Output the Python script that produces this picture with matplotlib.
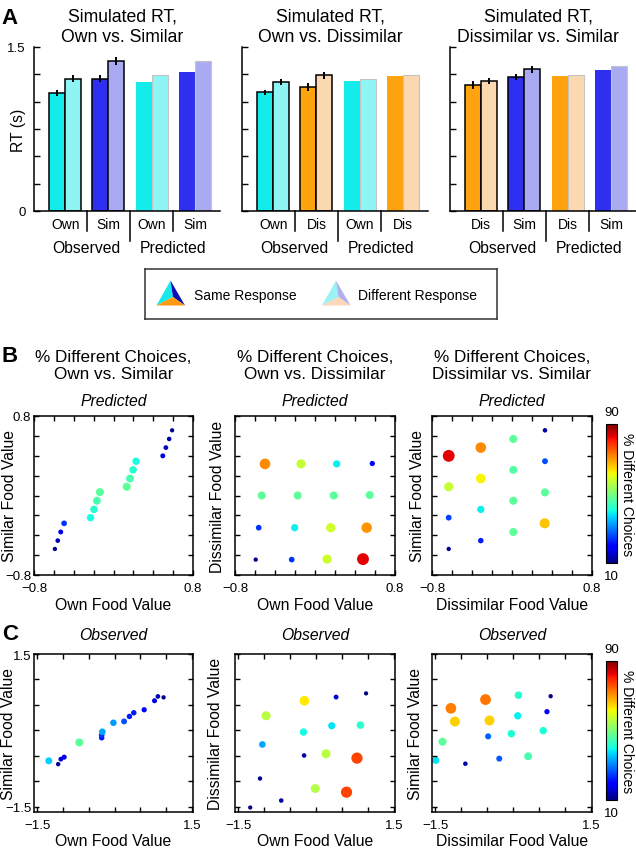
import numpy as np
import matplotlib
matplotlib.use('Agg')
import matplotlib.pyplot as plt
from matplotlib.patches import Polygon
from matplotlib.colors import Normalize
import matplotlib.cm as cm

W, H = 636, 853
plt.rcParams['font.family'] = ['Liberation Sans', 'DejaVu Sans']

# ---------------- panel A: simulated RT (s) ----------------
rt_titles = ['Simulated RT,\nOwn vs. Similar',
             'Simulated RT,\nOwn vs. Dissimilar',
             'Simulated RT,\nDissimilar vs. Similar']
rt_groups = [['Own', 'Sim', 'Own', 'Sim'],
             ['Own', 'Dis', 'Own', 'Dis'],
             ['Dis', 'Sim', 'Dis', 'Sim']]
# first two groups observed, last two predicted
rt_same = [[1.08, 1.21, 1.18, 1.275],
           [1.085, 1.135, 1.19, 1.235],
           [1.15, 1.225, 1.235, 1.29]]
rt_diff = [[1.21, 1.37, 1.24, 1.37],
           [1.18, 1.24, 1.208, 1.245],
           [1.19, 1.295, 1.245, 1.325]]
rt_same_err = [[0.025, 0.03], [0.025, 0.035], [0.035, 0.025]]
rt_diff_err = [[0.03, 0.035], [0.025, 0.03], [0.03, 0.03]]
rt_ticks = [0, 0.25, 0.5, 0.75, 1.0, 1.25, 1.5]

# ---------------- panel B: predicted % different choices ----------------
pos_own = [-0.59, -0.561, -0.531, -0.497, -0.231, -0.197, -0.167, -0.137,
           0.133, 0.166, 0.197, 0.227, 0.496, 0.527, 0.56, 0.59]
pos_sim = [-0.538, -0.454, -0.367, -0.28, -0.223, -0.14, -0.053, 0.034,
           0.088, 0.171, 0.258, 0.345, 0.399, 0.482, 0.569, 0.656]
pos_pct = [11, 14, 17, 24, 40, 42, 45, 47, 47, 45, 42, 40, 17, 15, 13, 11]

pod_own = [-0.5, -0.14, 0.217, 0.573, -0.533, -0.173, 0.187, 0.547,
           -0.563, -0.203, 0.157, 0.517, -0.593, -0.233, 0.12, 0.48]
pod_dis = [0.318, 0.318, 0.318, 0.322, 0.0, 0.0, 0.0, 0.005,
           -0.324, -0.324, -0.324, -0.324, -0.645, -0.645, -0.64, -0.64]
pod_pct = [71, 57, 39, 20, 47, 47, 47, 47, 24, 39, 58, 70, 11, 24, 58, 83]

pds_dis = [-0.633, -0.633, -0.633, -0.633, -0.312, -0.312, -0.312, -0.312,
           0.013, 0.013, 0.013, 0.013, 0.33, 0.33, 0.33, 0.327]
pds_sim = [0.399, 0.088, -0.223, -0.538, 0.482, 0.171, -0.14, -0.454,
           0.569, 0.258, -0.053, -0.367, 0.656, 0.345, 0.031, -0.28]
pds_pct = [83, 57, 25, 11, 71, 62, 39, 22, 47, 46, 47, 47, 13, 26, 47, 66]

# ---------------- panel C: observed % different choices ----------------
oos_own = [-1.273, -1.092, -1.04, -0.975, -0.683, -0.249, -0.249, -0.236,
           -0.022, 0.185, 0.289, 0.373, 0.574, 0.775, 0.84, 0.95]
oos_sim = [-0.596, -0.661, -0.563, -0.524, -0.235, -0.144, -0.092, -0.026,
           0.151, 0.177, 0.275, 0.347, 0.406, 0.583, 0.668, 0.649]
oos_pct = [36, 12, 16, 18, 47, 22, 24, 33, 32, 26, 22, 22, 20, 18, 14, 11]

ood_own = [-1.267, -1.079, -0.67, -1.033, -0.962, -0.223, -0.243, -0.23,
           -0.016, 0.192, 0.302, 0.386, 0.587, 0.788, 0.853, 0.963]
ood_dis = [-1.512, -0.943, -1.375, -0.275, 0.288, 0.583, -0.032, -0.491,
           -1.139, -0.458, 0.092, 0.655, -1.211, -0.543, 0.105, 0.727]
ood_pct = [10, 12, 13, 33, 56, 63, 40, 13, 55, 56, 38, 16, 77, 77, 42, 10]

ods_dis = [-1.487, -1.358, -1.196, -1.119, -0.918, -0.53, -0.479, -0.453,
           -0.265, -0.033, 0.09, 0.103, 0.29, 0.581, 0.653, 0.724]
ods_sim = [-0.586, -0.222, 0.434, 0.175, -0.652, 0.606, -0.116, 0.195,
           -0.553, -0.063, 0.288, 0.692, -0.507, -0.003, 0.368, 0.672]
ods_pct = [38, 47, 72, 65, 13, 73, 28, 65, 27, 41, 39, 42, 45, 41, 20, 11]

pct_lo, pct_hi = 10, 90

fig = plt.figure(figsize=(W / 100, H / 100), dpi=100)


def rect(x0, y0, x1, y1):
    return [x0 / W, 1 - y1 / H, (x1 - x0) / W, (y1 - y0) / H]


def ftext(x, y, s, **kw):
    kw.setdefault('ha', 'center')
    kw.setdefault('va', 'center')
    fig.text(x / W, 1 - y / H, s, **kw)


# ---------------- A ----------------
bar_col = {'Own': ('#14ecec', '#8ff4f4'),
           'Sim': ('#2f2ff0', '#aaaaf2'),
           'Dis': ('#ffa30f', '#fcd8b0')}
a_left = [34, 242, 450]
a_w = 186
bw = 0.37
for i in range(3):
    ax = fig.add_axes(rect(a_left[i], 48, a_left[i] + a_w, 212))
    for j in range(4):
        cat = rt_groups[i][j]
        dark, light = bar_col[cat]
        c = j + 1
        if j < 2:
            ax.bar(c - bw / 2, rt_same[i][j], bw, color=dark, edgecolor='black', linewidth=1.1)
            ax.bar(c + bw / 2, rt_diff[i][j], bw, color=light, edgecolor='black', linewidth=1.1)
            ax.errorbar([c - bw / 2, c + bw / 2], [rt_same[i][j], rt_diff[i][j]],
                        yerr=[rt_same_err[i][j], rt_diff_err[i][j]], fmt='none',
                        ecolor='black', elinewidth=1.4, capsize=0, zorder=5)
        else:
            ax.bar(c - bw / 2, rt_same[i][j], bw, color=dark, edgecolor='none')
            ax.bar(c + bw / 2, rt_diff[i][j], bw, color=light, edgecolor='#c4c4c4', linewidth=0.8)
        ax.text(c, -0.079, cat, transform=ax.get_xaxis_transform(), ha='center', va='center', fontsize=10)
    tr = ax.get_xaxis_transform()
    for sx, depth in [(1.5, -0.122), (2.5, -0.183), (3.5, -0.122)]:
        ax.plot([sx, sx], [0, depth], color='black', lw=1.1, transform=tr, clip_on=False)
    ax.text(1.5, -0.22, 'Observed', transform=tr, ha='center', va='center', fontsize=11.3)
    ax.text(3.5, -0.22, 'Predicted', transform=tr, ha='center', va='center', fontsize=11.3)
    ax.set_xlim(0.28, 4.58)
    ax.set_ylim(0, 1.5)
    ax.set_xticks([])
    ax.set_yticks(rt_ticks)
    if i == 0:
        ax.set_yticklabels(['0', '', '', '', '', '', '1.5'], fontsize=9.5)
    else:
        ax.set_yticklabels([])
    ax.tick_params(axis='y', direction='in', length=4, width=1, pad=6)
    for s in ['top', 'right']:
        ax.spines[s].set_visible(False)
    for s in ['left', 'bottom']:
        ax.spines[s].set_linewidth(1.1)
    ftext(a_left[i] + a_w / 2 - 5, 27, rt_titles[i], fontsize=12.7, linespacing=1.25)

ftext(18, 130, 'RT (s)', rotation=90, fontsize=11.3)
ftext(10, 19, 'A', fontsize=16, fontweight='bold')

# legend box
lax = fig.add_axes(rect(145, 270, 497, 320))
lax.set_xlim(0, 352)
lax.set_ylim(50, 0)
lax.set_xticks([])
lax.set_yticks([])
for s in lax.spines.values():
    s.set_linewidth(1.1)
    s.set_color('#333333')


def pyramid(x0, faces):
    top, bl, br, mid = (x0 + 14, 11.5), (x0, 36.5), (x0 + 28.5, 36.5), (x0 + 16.5, 28)
    lax.add_patch(Polygon([top, bl, mid], closed=True, color=faces[0], lw=0))
    lax.add_patch(Polygon([top, mid, br], closed=True, color=faces[1], lw=0))
    lax.add_patch(Polygon([bl, mid, br], closed=True, color=faces[2], lw=0))


pyramid(11.5, ['#18e8ea', '#0d0db8', '#ff9a10'])
pyramid(177, ['#9af2f2', '#b0b0f0', '#fbd8ba'])
lax.text(49, 26, 'Same Response', ha='left', va='center', fontsize=10)
lax.text(213, 26, 'Different Response', ha='left', va='center', fontsize=10)

# ---------------- B and C ----------------
norm = Normalize(pct_lo, pct_hi)


def scatter_panel(box, xs, ys, pct, lim, ticks, tlab, show_y):
    ax = fig.add_axes(rect(*box))
    p = np.array(pct, dtype=float)
    order = np.argsort(p)
    ax.scatter(np.array(xs)[order], np.array(ys)[order], c=p[order], cmap='jet', norm=norm,
               s=(2.3 + 0.075 * p[order]) ** 2, linewidths=0)
    ax.set_xlim(lim[0], lim[1])
    ax.set_ylim(lim[2], lim[3])
    ax.set_xticks(ticks)
    ax.set_yticks(ticks)
    labels = [tlab[0]] + [''] * (len(ticks) - 2) + [tlab[1]]
    ax.set_xticklabels(labels, fontsize=9.5)
    ax.set_yticklabels(labels if show_y else [], fontsize=9.5)
    ax.tick_params(direction='in', top=True, right=True, length=3.5, width=1)
    ax.tick_params(axis='x', pad=5)
    ax.tick_params(axis='y', pad=2)
    for s in ax.spines.values():
        s.set_linewidth(1.1)
    return ax


b_ticks = [-0.8, -0.6, -0.4, -0.2, 0, 0.2, 0.4, 0.6, 0.8]
b_lab = ['\u22120.8', '0.8']
b_lim = (-0.8, 0.8, -0.8, 0.8)
c_ticks = [-1.5, -1.0, -0.5, 0, 0.5, 1.0, 1.5]
c_lab = ['\u22121.5', '1.5']
c_lim = (-1.56, 1.52, -1.6, 1.5)

b_boxes = [(34, 417, 193, 576), (235, 417, 395, 576), (432, 417, 592, 576)]
c_boxes = [(34, 655, 193, 813), (235, 655, 395, 813), (432, 655, 592, 813)]

b_titles = ['% Different Choices,\nOwn vs. Similar',
            '% Different Choices,\nOwn vs. Dissimilar',
            '% Different Choices,\nDissimilar vs. Similar']
x_names = ['Own Food Value', 'Own Food Value', 'Dissimilar Food Value']
y_names = ['Similar Food Value', 'Dissimilar Food Value', 'Similar Food Value']
ylab_x = [10, 217, 417]

b_data = [(pos_own, pos_sim, pos_pct), (pod_own, pod_dis, pod_pct), (pds_dis, pds_sim, pds_pct)]
c_data = [(oos_own, oos_sim, oos_pct), (ood_own, ood_dis, ood_pct), (ods_dis, ods_sim, ods_pct)]

for k in range(3):
    bx = b_boxes[k]
    scatter_panel(bx, *b_data[k], b_lim, b_ticks, b_lab, k == 0)
    xc = (bx[0] + bx[2]) / 2
    ftext(xc, 366, b_titles[k], fontsize=12.3, linespacing=1.2)
    ftext(xc, 402, 'Predicted', fontsize=11.3, style='italic')
    ftext(xc, 606, x_names[k], fontsize=11.3)
    ftext(ylab_x[k], (bx[1] + bx[3]) / 2, y_names[k], rotation=90, fontsize=11.3)

    cx = c_boxes[k]
    scatter_panel(cx, *c_data[k], c_lim, c_ticks, c_lab, k == 0)
    xc = (cx[0] + cx[2]) / 2
    ftext(xc, 636, 'Observed', fontsize=11.3, style='italic')
    ftext(xc, 842, x_names[k], fontsize=11.3)
    ftext(ylab_x[k] - 1, (cx[1] + cx[3]) / 2, y_names[k], rotation=90, fontsize=11.3)

ftext(10, 357, 'B', fontsize=16, fontweight='bold')
ftext(10, 634, 'C', fontsize=16, fontweight='bold')

sm = cm.ScalarMappable(norm=norm, cmap='jet')
for top, bot in [(425, 564), (662, 801)]:
    cax = fig.add_axes(rect(606, top, 617, bot))
    cb = fig.colorbar(sm, cax=cax)
    cb.set_ticks([])
    cb.outline.set_linewidth(0.8)
    ftext(611.5, top - 12, str(pct_hi), fontsize=9.5)
    ftext(611.5, bot + 13, str(pct_lo), fontsize=9.5)
    ftext(627, (top + bot) / 2, '% Different Choices', rotation=270, fontsize=10)

fig.savefig('out.png', dpi=100)
